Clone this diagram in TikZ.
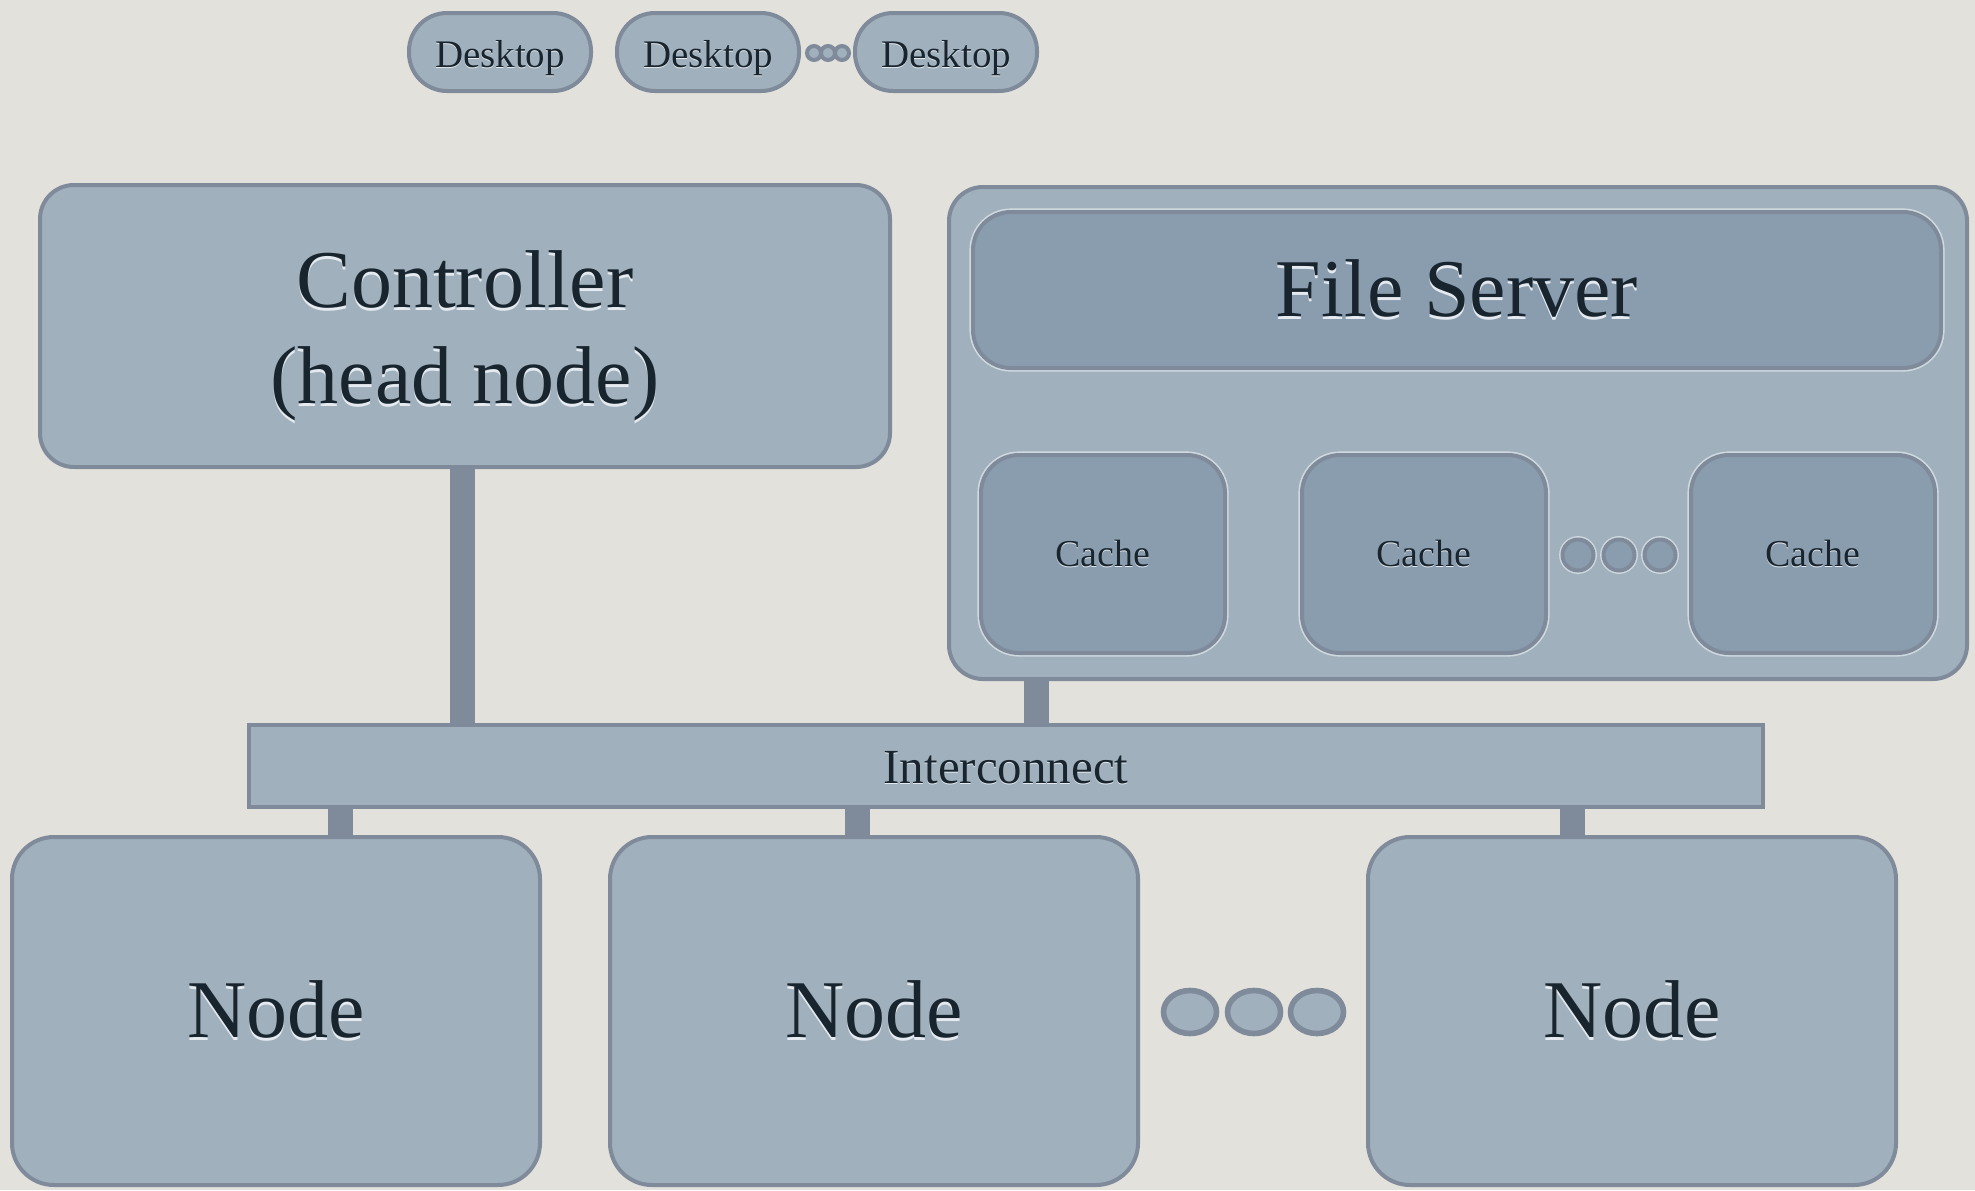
\documentclass[tikz,border=0pt]{standalone}
\usepackage{fontspec}
\setmainfont{Liberation Serif}
\usetikzlibrary{shapes.geometric}

\definecolor{paper}{RGB}{227,225,220}
\definecolor{boxfill}{RGB}{160,176,188}
\definecolor{innerfill}{RGB}{138,157,174}
\definecolor{edge}{RGB}{127,139,155}
\definecolor{ink}{RGB}{24,36,46}
\definecolor{glow}{RGB}{228,234,240}

% text with a soft light shadow underneath
\newcommand\glowtext[1]{\makebox[0pt][l]{\raisebox{-0.035em}{\color{glow}#1}}#1}
% text whose baseline sits a given distance below the node centre
\newcommand\lowtext[2]{\raisebox{-#1}[0pt][0pt]{\glowtext{#2}}}

\tikzset{
  box/.style={draw=edge, fill=boxfill, line width=2pt, rounded corners=17pt,
    text=ink, align=center, inner sep=0pt},
  innerbox/.style={box, fill=innerfill, rounded corners=19pt,
    preaction={draw=glow!70!boxfill, line width=3.6pt}},
  pill/.style={box, rounded corners=19pt, font=\fontsize{19.5}{23}\selectfont,
    minimum width=91pt, minimum height=39pt},
  cachebox/.style={innerbox, font=\fontsize{19}{23}\selectfont,
    minimum width=122pt, minimum height=99pt},
  nodebox/.style={box, rounded corners=21pt, font=\fontsize{41}{49}\selectfont,
    minimum width=264pt, minimum height=174pt},
  bar/.style={draw=edge, line width=12.5pt},
  tinydot/.style={circle, draw=edge, fill=boxfill, line width=2pt,
    minimum size=7pt, inner sep=0pt},
  cachedot/.style={circle, draw=edge, fill=innerfill, line width=2pt,
    minimum size=15.5pt, inner sep=0pt, preaction={draw=glow!70!boxfill, line width=3.4pt}},
  nodedot/.style={ellipse, draw=edge, fill=boxfill, line width=2.8pt,
    minimum width=26.5pt, minimum height=21.5pt, inner sep=0pt},
}

\begin{document}
\begin{tikzpicture}[x=0.5pt, y=-0.5pt]
  \fill[paper] (0,0) rectangle (1975,1190);
  \useasboundingbox (0,0) rectangle (1975,1190);

  % desktops
  \node[pill] (d1) at (500,52) {\lowtext{7.5pt}{Desktop}};
  \node[pill] (d2) at (708,52) {\lowtext{7.5pt}{Desktop}};
  \node[pill] (d3) at (946,52) {\lowtext{7.5pt}{Desktop}};
  \node[tinydot] (dd1) at (814,53) {};
  \node[tinydot] (dd2) at (828,53) {};
  \node[tinydot] (dd3) at (842,53) {};

  % controller
  \node[box, minimum width=425pt, minimum height=141pt,
    label={[font=\fontsize{41}{48}\selectfont, text=ink, align=center, yshift=-5.5pt]
      center:{\glowtext{Controller}\\\glowtext{(head node)}}}]
    (ctrl) at (465,326) {};

  % file server with its caches
  \node[box, minimum width=509pt, minimum height=246pt] (fsouter) at (1458,433) {};
  \node[innerbox, font=\fontsize{41}{49}\selectfont, minimum width=484pt, minimum height=78pt]
    (fs) at (1457,290) {\glowtext{File Server}};
  \node[cachebox] (c1) at (1103,554) {\glowtext{Cache}};
  \node[cachebox] (c2) at (1424,554) {\glowtext{Cache}};
  \node[cachebox] (c3) at (1813,554) {\glowtext{Cache}};
  \node[cachedot] (cd1) at (1578,555) {};
  \node[cachedot] (cd2) at (1619,555) {};
  \node[cachedot] (cd3) at (1660,555) {};

  % interconnect
  \node[box, rounded corners=0pt, line width=2.4pt, font=\fontsize{24.5}{29}\selectfont,
    minimum width=757pt, minimum height=41pt] (ic) at (1006,766) {\lowtext{8.5pt}{Interconnect}};

  % compute nodes
  \node[nodebox] (n1) at (276,1011) {\glowtext{Node}};
  \node[nodebox] (n2) at (874,1011) {\glowtext{Node}};
  \node[nodebox] (n3) at (1632,1011) {\glowtext{Node}};
  \node[nodedot] (nd1) at (1190,1012) {};
  \node[nodedot] (nd2) at (1254,1012) {};
  \node[nodedot] (nd3) at (1317,1012) {};

  % links to the interconnect
  \draw[bar] (462,0 |- ctrl.south) -- (462,0 |- ic.north);
  \draw[bar] (1036,0 |- fsouter.south) -- (1036,0 |- ic.north);
  \draw[bar] (340,0 |- ic.south) -- (340,0 |- n1.north);
  \draw[bar] (857,0 |- ic.south) -- (857,0 |- n2.north);
  \draw[bar] (1572,0 |- ic.south) -- (1572,0 |- n3.north);
\end{tikzpicture}
\end{document}
